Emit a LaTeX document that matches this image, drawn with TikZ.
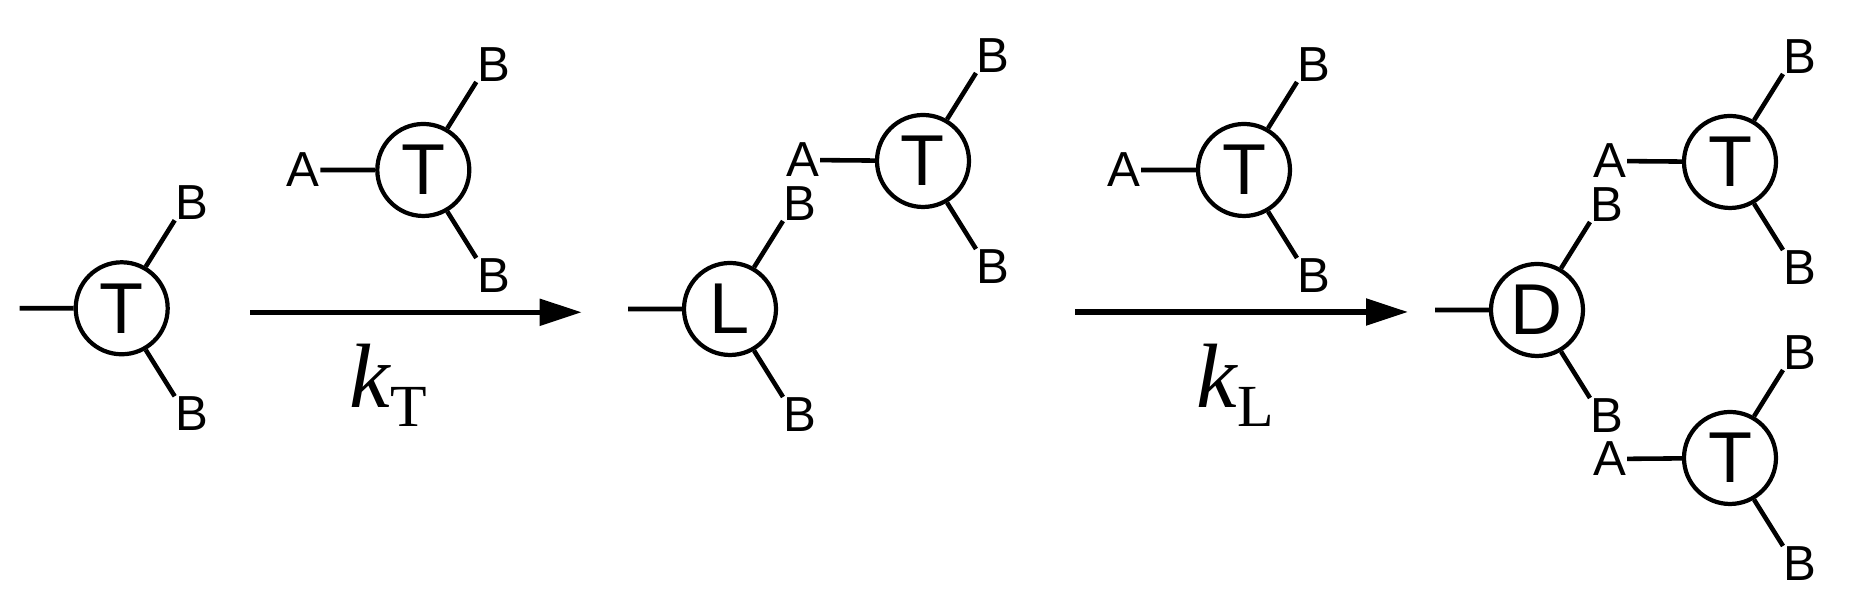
\documentclass[tikz,border=0pt]{standalone}
\usepackage{fontspec}
\setmainfont{Liberation Sans}
\newfontfamily\kfont{Liberation Serif}
\usetikzlibrary{arrows.meta}
\newcommand{\rate}[1]{{\kfont\itshape k}{\kfont\raisebox{-5.4pt}{\fontsize{17}{17}\selectfont #1}}}
\tikzset{
  unit/.style={circle,draw,line width=1.2pt,minimum size=0.92cm,inner sep=0pt,font=\fontsize{20.5}{22}\selectfont},
  site/.style={inner sep=0pt,font=\fontsize{14}{16}\selectfont},
  bond/.style={line width=1.3pt},
  react/.style={line width=1.5pt,-{Triangle[length=4.2mm,width=2.6mm]}}
}
\begin{document}
\begin{tikzpicture}
  \useasboundingbox (0,0) rectangle (18.55,5.96);
  % terminal unit
  \begin{scope}[shift={(1.217,2.877)}]
    \node[unit] (t1) at (0,0) {T};
    \coordinate (t1w) at (-1.02,0);
    \node[site,anchor=south west] (t1b1) at (0.53,0.88) {B};
    \node[site,anchor=north west] (t1b2) at (0.53,-0.88) {B};
    \draw[bond] (t1w) -- (t1) (t1.60) -- (t1b1.south west) (t1.-60) -- (t1b2.north west);
  \end{scope}
  % added monomer, first step
  \begin{scope}[shift={(4.233,4.26)}]
    \node[unit] (t2) at (0,0) {T};
    \node[site] (t2a) at (-1.2,0) {A};
    \node[site,anchor=south west] (t2b1) at (0.53,0.88) {B};
    \node[site,anchor=north west] (t2b2) at (0.53,-0.88) {B};
    \draw[bond] (t2a) -- (t2) (t2.60) -- (t2b1.south west) (t2.-60) -- (t2b2.north west);
  \end{scope}
  \coordinate (r1s) at (2.50,2.837);
  \coordinate (r1e) at (5.817,2.837);
  \draw[react] (r1s) -- (r1e);
  \node[anchor=base,inner sep=0pt] (kt) at (3.885,1.88) {\fontsize{26}{28}\selectfont\rate{T}};
  % linear unit with new terminal
  \begin{scope}[shift={(7.30,2.87)}]
    \node[unit] (l) at (0,0) {L};
    \coordinate (lw) at (-1.02,0);
    \node[site,anchor=south west] (lb1) at (0.53,0.88) {B};
    \node[site,anchor=north west] (lb2) at (0.53,-0.88) {B};
    \node[unit] (t3) at (1.93,1.48) {T};
    \node[site] (t3a) at (0.73,1.49) {A};
    \node[site,anchor=south west] (t3b1) at (2.46,2.36) {B};
    \node[site,anchor=north west] (t3b2) at (2.46,0.60) {B};
    \draw[bond] (lw) -- (l) (l.60) -- (lb1.south west) (l.-60) -- (lb2.north west)
      (t3a) -- (t3) (t3.60) -- (t3b1.south west) (t3.-60) -- (t3b2.north west);
  \end{scope}
  % added monomer, second step
  \begin{scope}[shift={(12.44,4.26)}]
    \node[unit] (t4) at (0,0) {T};
    \node[site] (t4a) at (-1.2,0) {A};
    \node[site,anchor=south west] (t4b1) at (0.53,0.88) {B};
    \node[site,anchor=north west] (t4b2) at (0.53,-0.88) {B};
    \draw[bond] (t4a) -- (t4) (t4.60) -- (t4b1.south west) (t4.-60) -- (t4b2.north west);
  \end{scope}
  \coordinate (r2s) at (10.75,2.84);
  \coordinate (r2e) at (14.08,2.84);
  \draw[react] (r2s) -- (r2e);
  \node[anchor=base,inner sep=0pt] (kl) at (12.35,1.88) {\fontsize{26}{28}\selectfont\rate{L}};
  % dendritic unit with two terminals
  \begin{scope}[shift={(15.37,2.86)}]
    \node[unit] (d) at (0,0) {D};
    \coordinate (dw) at (-1.02,0);
    \node[site,anchor=south west] (db1) at (0.53,0.88) {B};
    \node[site,anchor=north west] (db2) at (0.53,-0.88) {B};
    \node[unit] (t5) at (1.93,1.48) {T};
    \node[site] (t5a) at (0.73,1.49) {A};
    \node[site,anchor=south west] (t5b1) at (2.46,2.36) {B};
    \node[site,anchor=north west] (t5b2) at (2.46,0.60) {B};
    \node[unit] (t6) at (1.93,-1.48) {T};
    \node[site] (t6a) at (0.73,-1.49) {A};
    \node[site,anchor=south west] (t6b1) at (2.46,-0.60) {B};
    \node[site,anchor=north west] (t6b2) at (2.46,-2.36) {B};
    \draw[bond] (dw) -- (d) (d.60) -- (db1.south west) (d.-60) -- (db2.north west)
      (t5a) -- (t5) (t5.60) -- (t5b1.south west) (t5.-60) -- (t5b2.north west)
      (t6a) -- (t6) (t6.60) -- (t6b1.south west) (t6.-60) -- (t6b2.north west);
  \end{scope}
\end{tikzpicture}
\end{document}
